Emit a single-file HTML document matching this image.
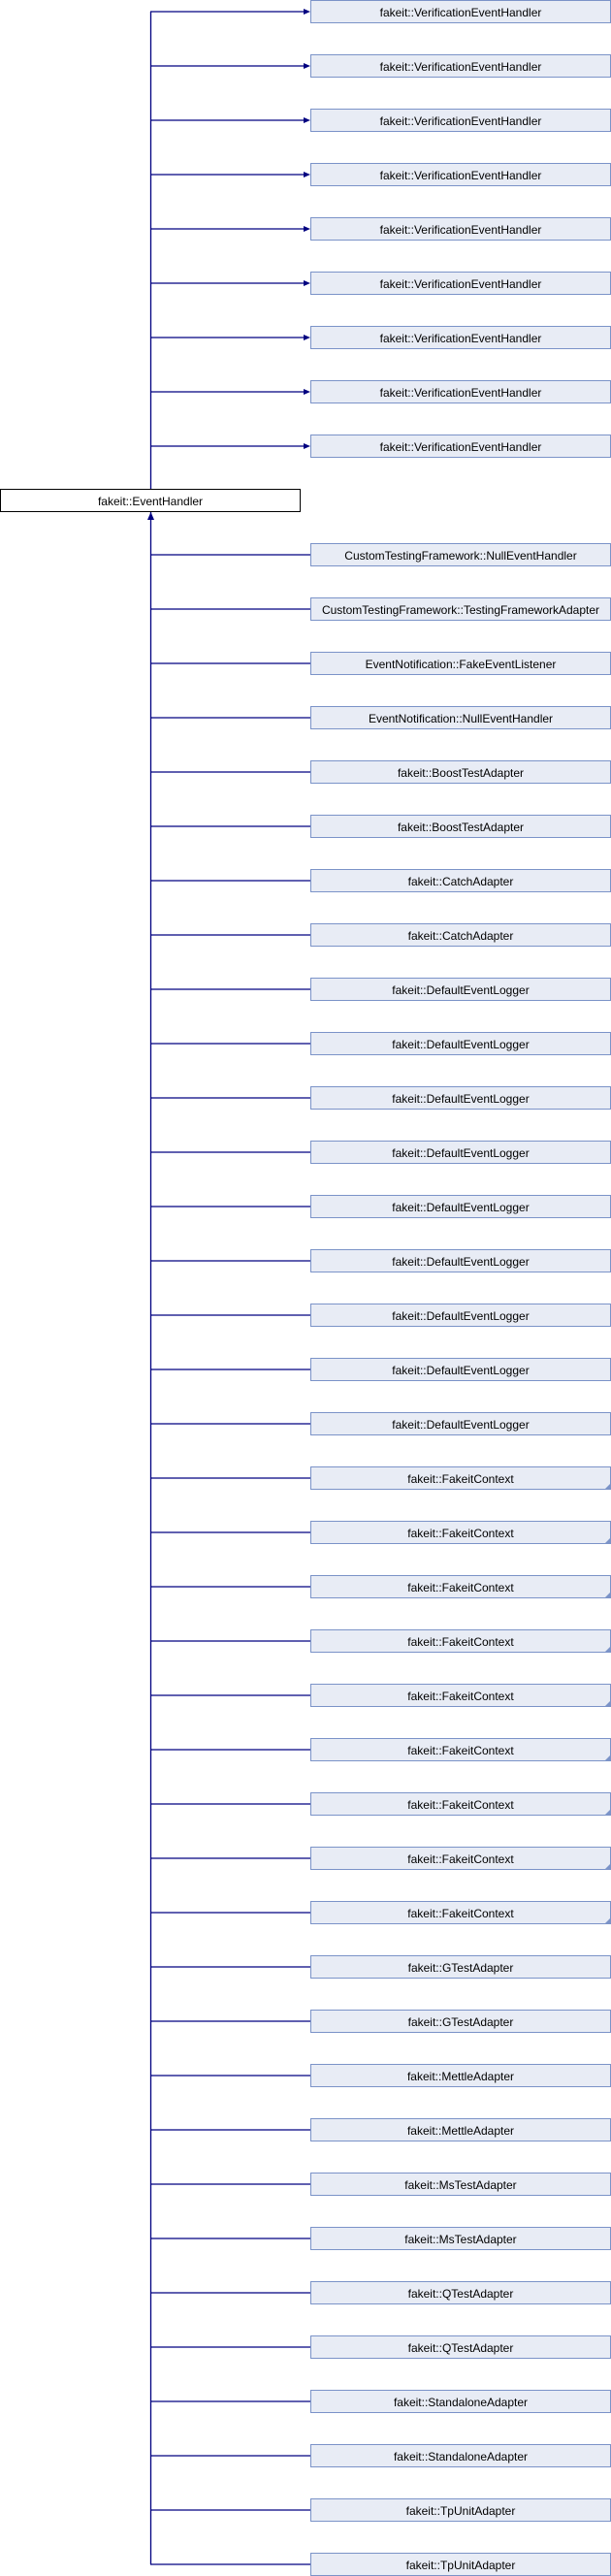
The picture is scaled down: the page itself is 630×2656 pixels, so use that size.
<!DOCTYPE html>
<html><head><meta charset="utf-8"><style>
html,body{margin:0;padding:0;background:#fff;width:630px;height:2656px;overflow:hidden}
svg{display:block}
text{font-family:"Liberation Sans",sans-serif;font-size:12px;fill:#000;text-anchor:middle}
.b{fill:#E8ECF5;stroke:#7B93C8;stroke-width:1}
.l{stroke:#000080;stroke-width:1.3;fill:none}
.a{fill:#000080}
.c{fill:#7B93C8}
</style></head><body>
<svg width="630" height="2656" viewBox="0 0 630 2656" xmlns="http://www.w3.org/2000/svg">
<path class="l" d="M155.5 12 V504 M155.5 528 V2644"/>
<polygon class="a" points="155.5,528 152,536 159,536"/>
<rect x="0.5" y="504.5" width="309" height="23" fill="#fff" stroke="#000"/>
<text x="155" y="521">fakeit::EventHandler</text>
<g>
<path class="l" d="M155 12H318M155 68H318M155 124H318M155 180H318M155 236H318M155 292H318M155 348H318M155 404H318M155 460H318"/>
<polygon class="a" points="320,12 313,9 313,15"/><polygon class="a" points="320,68 313,65 313,71"/><polygon class="a" points="320,124 313,121 313,127"/><polygon class="a" points="320,180 313,177 313,183"/><polygon class="a" points="320,236 313,233 313,239"/><polygon class="a" points="320,292 313,289 313,295"/><polygon class="a" points="320,348 313,345 313,351"/><polygon class="a" points="320,404 313,401 313,407"/><polygon class="a" points="320,460 313,457 313,463"/>
<rect class="b" x="320.5" y="0.5" width="309" height="23"/><text x="475" y="17">fakeit::VerificationEventHandler</text>
<rect class="b" x="320.5" y="56.5" width="309" height="23"/><text x="475" y="73">fakeit::VerificationEventHandler</text>
<rect class="b" x="320.5" y="112.5" width="309" height="23"/><text x="475" y="129">fakeit::VerificationEventHandler</text>
<rect class="b" x="320.5" y="168.5" width="309" height="23"/><text x="475" y="185">fakeit::VerificationEventHandler</text>
<rect class="b" x="320.5" y="224.5" width="309" height="23"/><text x="475" y="241">fakeit::VerificationEventHandler</text>
<rect class="b" x="320.5" y="280.5" width="309" height="23"/><text x="475" y="297">fakeit::VerificationEventHandler</text>
<rect class="b" x="320.5" y="336.5" width="309" height="23"/><text x="475" y="353">fakeit::VerificationEventHandler</text>
<rect class="b" x="320.5" y="392.5" width="309" height="23"/><text x="475" y="409">fakeit::VerificationEventHandler</text>
<rect class="b" x="320.5" y="448.5" width="309" height="23"/><text x="475" y="465">fakeit::VerificationEventHandler</text>
</g>
<path class="l" d="M155 572H320M155 628H320M155 684H320M155 740H320M155 796H320M155 852H320M155 908H320M155 964H320M155 1020H320M155 1076H320M155 1132H320M155 1188H320M155 1244H320M155 1300H320M155 1356H320M155 1412H320M155 1468H320M155 1524H320M155 1580H320M155 1636H320M155 1692H320M155 1748H320M155 1804H320M155 1860H320M155 1916H320M155 1972H320M155 2028H320M155 2084H320M155 2140H320M155 2196H320M155 2252H320M155 2308H320M155 2364H320M155 2420H320M155 2476H320M155 2532H320M155 2588H320M155 2644H320"/>
<rect class="b" x="320.5" y="560.5" width="309" height="23"/><text x="475" y="577">CustomTestingFramework::NullEventHandler</text>
<rect class="b" x="320.5" y="616.5" width="309" height="23"/><text x="475" y="633">CustomTestingFramework::TestingFrameworkAdapter</text>
<rect class="b" x="320.5" y="672.5" width="309" height="23"/><text x="475" y="689">EventNotification::FakeEventListener</text>
<rect class="b" x="320.5" y="728.5" width="309" height="23"/><text x="475" y="745">EventNotification::NullEventHandler</text>
<rect class="b" x="320.5" y="784.5" width="309" height="23"/><text x="475" y="801">fakeit::BoostTestAdapter</text>
<rect class="b" x="320.5" y="840.5" width="309" height="23"/><text x="475" y="857">fakeit::BoostTestAdapter</text>
<rect class="b" x="320.5" y="896.5" width="309" height="23"/><text x="475" y="913">fakeit::CatchAdapter</text>
<rect class="b" x="320.5" y="952.5" width="309" height="23"/><text x="475" y="969">fakeit::CatchAdapter</text>
<rect class="b" x="320.5" y="1008.5" width="309" height="23"/><text x="475" y="1025">fakeit::DefaultEventLogger</text>
<rect class="b" x="320.5" y="1064.5" width="309" height="23"/><text x="475" y="1081">fakeit::DefaultEventLogger</text>
<rect class="b" x="320.5" y="1120.5" width="309" height="23"/><text x="475" y="1137">fakeit::DefaultEventLogger</text>
<rect class="b" x="320.5" y="1176.5" width="309" height="23"/><text x="475" y="1193">fakeit::DefaultEventLogger</text>
<rect class="b" x="320.5" y="1232.5" width="309" height="23"/><text x="475" y="1249">fakeit::DefaultEventLogger</text>
<rect class="b" x="320.5" y="1288.5" width="309" height="23"/><text x="475" y="1305">fakeit::DefaultEventLogger</text>
<rect class="b" x="320.5" y="1344.5" width="309" height="23"/><text x="475" y="1361">fakeit::DefaultEventLogger</text>
<rect class="b" x="320.5" y="1400.5" width="309" height="23"/><text x="475" y="1417">fakeit::DefaultEventLogger</text>
<rect class="b" x="320.5" y="1456.5" width="309" height="23"/><text x="475" y="1473">fakeit::DefaultEventLogger</text>
<rect class="b" x="320.5" y="1512.5" width="309" height="23"/><text x="475" y="1529">fakeit::FakeitContext</text><polygon class="c" points="629,1530 629,1536 623,1536"/>
<rect class="b" x="320.5" y="1568.5" width="309" height="23"/><text x="475" y="1585">fakeit::FakeitContext</text><polygon class="c" points="629,1586 629,1592 623,1592"/>
<rect class="b" x="320.5" y="1624.5" width="309" height="23"/><text x="475" y="1641">fakeit::FakeitContext</text><polygon class="c" points="629,1642 629,1648 623,1648"/>
<rect class="b" x="320.5" y="1680.5" width="309" height="23"/><text x="475" y="1697">fakeit::FakeitContext</text><polygon class="c" points="629,1698 629,1704 623,1704"/>
<rect class="b" x="320.5" y="1736.5" width="309" height="23"/><text x="475" y="1753">fakeit::FakeitContext</text><polygon class="c" points="629,1754 629,1760 623,1760"/>
<rect class="b" x="320.5" y="1792.5" width="309" height="23"/><text x="475" y="1809">fakeit::FakeitContext</text><polygon class="c" points="629,1810 629,1816 623,1816"/>
<rect class="b" x="320.5" y="1848.5" width="309" height="23"/><text x="475" y="1865">fakeit::FakeitContext</text><polygon class="c" points="629,1866 629,1872 623,1872"/>
<rect class="b" x="320.5" y="1904.5" width="309" height="23"/><text x="475" y="1921">fakeit::FakeitContext</text><polygon class="c" points="629,1922 629,1928 623,1928"/>
<rect class="b" x="320.5" y="1960.5" width="309" height="23"/><text x="475" y="1977">fakeit::FakeitContext</text><polygon class="c" points="629,1978 629,1984 623,1984"/>
<rect class="b" x="320.5" y="2016.5" width="309" height="23"/><text x="475" y="2033">fakeit::GTestAdapter</text>
<rect class="b" x="320.5" y="2072.5" width="309" height="23"/><text x="475" y="2089">fakeit::GTestAdapter</text>
<rect class="b" x="320.5" y="2128.5" width="309" height="23"/><text x="475" y="2145">fakeit::MettleAdapter</text>
<rect class="b" x="320.5" y="2184.5" width="309" height="23"/><text x="475" y="2201">fakeit::MettleAdapter</text>
<rect class="b" x="320.5" y="2240.5" width="309" height="23"/><text x="475" y="2257">fakeit::MsTestAdapter</text>
<rect class="b" x="320.5" y="2296.5" width="309" height="23"/><text x="475" y="2313">fakeit::MsTestAdapter</text>
<rect class="b" x="320.5" y="2352.5" width="309" height="23"/><text x="475" y="2369">fakeit::QTestAdapter</text>
<rect class="b" x="320.5" y="2408.5" width="309" height="23"/><text x="475" y="2425">fakeit::QTestAdapter</text>
<rect class="b" x="320.5" y="2464.5" width="309" height="23"/><text x="475" y="2481">fakeit::StandaloneAdapter</text>
<rect class="b" x="320.5" y="2520.5" width="309" height="23"/><text x="475" y="2537">fakeit::StandaloneAdapter</text>
<rect class="b" x="320.5" y="2576.5" width="309" height="23"/><text x="475" y="2593">fakeit::TpUnitAdapter</text>
<rect class="b" x="320.5" y="2632.5" width="309" height="23"/><text x="475" y="2649">fakeit::TpUnitAdapter</text>
</svg>
</body></html>
